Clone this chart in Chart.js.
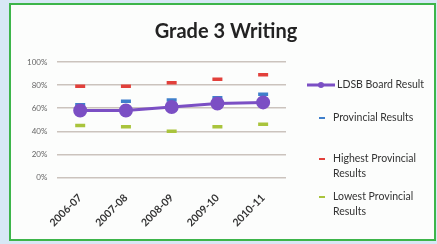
<!DOCTYPE html>
<html>
<head>
<meta charset="utf-8">
<script src="https://cdn.jsdelivr.net/npm/chart.js@4"></script>
<style>
  html, body { margin: 0; padding: 0; }
  body { width: 437px; height: 244px; background: #d7e8f5; position: relative; overflow: hidden; }
  #box { position: absolute; left: 9px; top: 3px; width: 423px; height: 234px; border: 2px solid #3db54a; background: #fcfdfc; }
</style>
</head>
<body>
<div id="box"><canvas id="grade3" width="423" height="234"></canvas></div>
<script>
var years = ["2006-07", "2007-08", "2008-09", "2009-10", "2010-11"];
var boardResult = [58, 58, 61, 64, 65];
var provincialResults = [63, 66, 67, 69, 72];
var highestResults = [79, 79, 82, 85, 89];
var lowestResults = [45, 44, 40, 44, 46];
var yTicks = [0, 20, 40, 60, 80, 100];
var chartTitle = 'Grade 3 Writing';

var legendLabels = [
  ["LDSB Board Result"],
  ["Provincial Results"],
  ["Highest Provincial", "Results"],
  ["Lowest Provincial", "Results"]
];

// title + legend drawn by hand: the title sits over the whole box, the names wrap
var sideLegend = {
  id: 'sideLegend',
  afterDraw: function(chart) {
    var ctx = chart.ctx;
    ctx.save();
    ctx.font = 'bold 20px Lato';
    ctx.fillStyle = '#222';
    ctx.textAlign = 'center';
    ctx.textBaseline = 'middle';
    ctx.fillText(chartTitle, 215, 27);

    var x0 = chart.chartArea.right + 21;
    var rows = [80, 113, 154, 192];
    ctx.textAlign = 'left';
    ctx.font = '10.5px Lato';
    chart.data.datasets.forEach(function(ds, i) {
      var y = rows[i];
      if (i === 0) {
        ctx.strokeStyle = ds.borderColor;
        ctx.lineWidth = 3;
        ctx.beginPath();
        ctx.moveTo(x0, y);
        ctx.lineTo(x0 + 28, y);
        ctx.stroke();
        ctx.fillStyle = ds.backgroundColor;
        ctx.beginPath();
        ctx.arc(x0 + 14, y, 3, 0, Math.PI * 2);
        ctx.fill();
      } else {
        ctx.strokeStyle = ds.borderColor;
        ctx.lineWidth = 2;
        ctx.beginPath();
        ctx.moveTo(x0 + 12, y);
        ctx.lineTo(x0 + 18, y);
        ctx.stroke();
      }
      ctx.fillStyle = '#333';
      var tx = i === 0 ? x0 + 30 : x0 + 26;
      legendLabels[i].forEach(function(line, k) {
        ctx.fillText(line, tx, y + k * 15);
      });
    });
    ctx.restore();
  }
};

function dashSet(label, data, color) {
  return {
    label: label,
    data: data,
    showLine: false,
    borderColor: color,
    backgroundColor: color,
    pointStyle: 'line',
    pointRadius: 5,
    pointBorderWidth: 3.5,
    pointHoverRadius: 5
  };
}

var chartData = {
  labels: years,
  datasets: [
    {
      label: 'LDSB Board Result',
      data: boardResult,
      borderColor: '#7b4fc4',
      backgroundColor: '#7b4fc4',
      borderWidth: 3,
      pointRadius: 5.5,
      pointStyle: 'circle'
    },
    dashSet('Provincial Results', provincialResults, '#3f7fcb'),
    dashSet('Highest Provincial Results', highestResults, '#e2403b'),
    dashSet('Lowest Provincial Results', lowestResults, '#a9c43c')
  ]
};

var chartOptions = {
  responsive: false,
  animation: false,
  layout: {
    padding: { left: 6, right: 148, top: 57, bottom: 4 }
  },
  scales: {
    x: {
      offset: true,
      grid: { display: false },
      border: { display: false },
      ticks: {
        minRotation: 45,
        maxRotation: 45,
        color: '#333',
        padding: 6,
        font: { family: 'Lato', size: 10.5, weight: 'bold' }
      }
    },
    y: {
      min: 0,
      max: 100,
      afterBuildTicks: function(axis) {
        axis.ticks = yTicks.map(function(v) { return { value: v }; });
      },
      grid: { color: '#cbc3bd', lineWidth: 1.5, drawTicks: false },
      border: { display: false },
      ticks: {
        color: '#666',
        padding: 10,
        font: { family: 'Lato', size: 8 },
        callback: function(v) { return v + '%'; }
      }
    }
  },
  plugins: {
    legend: { display: false },
    tooltip: { enabled: false },
    title: { display: false }
  }
};

var grade3Chart = new Chart(document.getElementById('grade3'), {
  type: 'line',
  data: chartData,
  options: chartOptions,
  plugins: [sideLegend]
});
</script>
</body>
</html>
